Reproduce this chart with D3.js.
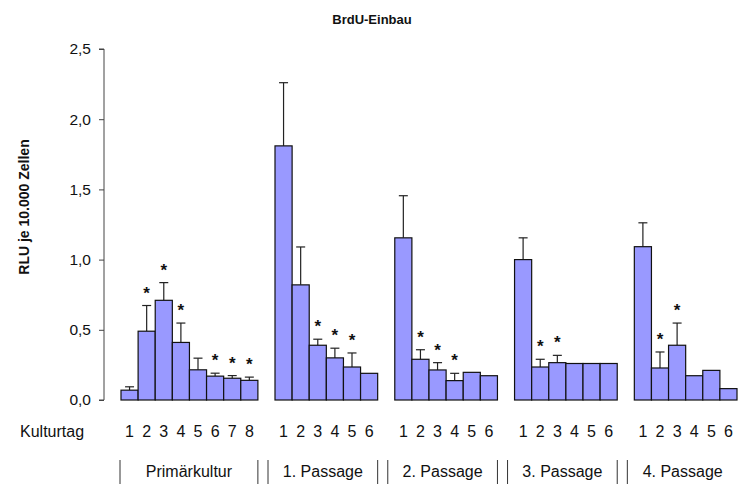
<!DOCTYPE html>
<html>
<head>
<meta charset="utf-8">
<script src="https://cdn.jsdelivr.net/npm/d3@7/dist/d3.min.js"></script>
<style>
  html, body { margin: 0; padding: 0; background: #fff; }
  svg { display: block; font-family: "Liberation Sans", Arial, sans-serif; }
</style>
</head>
<body>
<svg id="chart" width="738" height="489"></svg>
<script>
// BrdU incorporation per culture day, primary culture and four passages
const groups = ["Primärkultur", "1. Passage", "2. Passage", "3. Passage", "4. Passage"];
const dayLabels = [
  ["1", "2", "3", "4", "5", "6", "7", "8"],
  ["1", "2", "3", "4", "5", "6"],
  ["1", "2", "3", "4", "5", "6"],
  ["1", "2", "3", "4", "5", "6"],
  ["1", "2", "3", "4", "5", "6"]
];
// mean RLU per 10,000 cells
const means = [
  [0.07, 0.49, 0.71, 0.41, 0.215, 0.17, 0.155, 0.14],
  [1.81, 0.82, 0.39, 0.30, 0.235, 0.19],
  [1.155, 0.29, 0.214, 0.138, 0.197, 0.173],
  [1.0, 0.235, 0.266, 0.26, 0.26, 0.26],
  [1.092, 0.228, 0.39, 0.173, 0.211, 0.081]
];
// upper standard deviation (null = not shown)
const sds = [
  [0.024, 0.183, 0.126, 0.138, 0.083, 0.021, 0.019, 0.023],
  [0.45, 0.27, 0.043, 0.069, 0.10, null],
  [0.30, 0.068, 0.052, 0.052, null, null],
  [0.155, 0.055, 0.052, null, null, null],
  [0.17, 0.114, 0.158, null, null, null]
];
// significance markers (*)
const significant = [
  [0, 1, 1, 1, 0, 1, 1, 1],
  [0, 0, 1, 1, 1, 0],
  [0, 1, 1, 1, 0, 0],
  [0, 1, 1, 0, 0, 0],
  [0, 1, 1, 0, 0, 0]
];
const yTicks = [0, 0.5, 1.0, 1.5, 2.0, 2.5];

const svg = d3.select("#chart");
const fill = "#9999ff";

// flatten into bars, with one empty slot between groups
const bars = [];
const slots = [];
groups.forEach((g, gi) => {
  dayLabels[gi].forEach((d, di) => {
    const key = g + "|" + d;
    slots.push(key);
    bars.push({ key, group: gi, day: d, mean: means[gi][di], sd: sds[gi][di], sig: significant[gi][di] });
  });
  if (gi < groups.length - 1) slots.push("gap" + gi);
});

const x = d3.scaleBand().domain(slots).range([121, 737]).paddingInner(0).paddingOuter(0);
const y = d3.scaleLinear().domain([0, 2.5]).range([400, 49]);

// title
svg.append("text")
  .attr("x", 372).attr("y", 24)
  .attr("text-anchor", "middle")
  .attr("font-size", 13).attr("font-weight", "bold")
  .attr("fill", "#111")
  .text("BrdU-Einbau");

// y axis
const fmt = d3.format(".1f");
const yAxis = d3.axisLeft(y).tickValues(yTicks).tickSize(5).tickPadding(8)
  .tickFormat(d => fmt(d).replace(".", ","));
const gy = svg.append("g").attr("transform", "translate(104,0)").call(yAxis);
gy.select(".domain").attr("stroke", "#444").attr("d", `M-5,${y(2.5)}H0V${y(0)}H-5`);
gy.selectAll(".tick line").attr("stroke", "#444");
gy.selectAll(".tick text").attr("font-size", 15.5).attr("fill", "#111")
  .attr("font-family", "Liberation Sans, Arial, sans-serif");

svg.append("text")
  .attr("transform", `translate(29,207) rotate(-90)`)
  .attr("text-anchor", "middle")
  .attr("font-size", 14).attr("font-weight", "bold")
  .attr("fill", "#111")
  .text("RLU je 10.000 Zellen");

// error bars (drawn behind bars)
const capW = 9;
const withErr = bars.filter(b => b.sd != null);
const gErr = svg.append("g").attr("stroke", "#222").attr("stroke-width", 1.2);
gErr.selectAll("line.v").data(withErr).join("line").attr("class", "v")
  .attr("x1", b => x(b.key) + x.bandwidth() / 2).attr("x2", b => x(b.key) + x.bandwidth() / 2)
  .attr("y1", b => y(b.mean)).attr("y2", b => y(b.mean + b.sd));
gErr.selectAll("line.c").data(withErr).join("line").attr("class", "c")
  .attr("x1", b => x(b.key) + x.bandwidth() / 2 - capW / 2).attr("x2", b => x(b.key) + x.bandwidth() / 2 + capW / 2)
  .attr("y1", b => y(b.mean + b.sd)).attr("y2", b => y(b.mean + b.sd));

// bars
svg.append("g").selectAll("rect").data(bars).join("rect")
  .attr("x", b => x(b.key)).attr("width", x.bandwidth())
  .attr("y", b => y(b.mean)).attr("height", b => y(0) - y(b.mean))
  .attr("fill", fill).attr("stroke", "#111").attr("stroke-width", 1.2);

// significance stars
svg.append("g").selectAll("text").data(bars.filter(b => b.sig)).join("text")
  .attr("x", b => x(b.key) + x.bandwidth() / 2)
  .attr("y", b => y(b.mean + (b.sd || 0)) - 7)
  .attr("text-anchor", "middle")
  .attr("font-size", 17).attr("font-weight", "bold").attr("fill", "#111")
  .text("*");

// culture day labels
svg.append("text").attr("x", 20).attr("y", 437)
  .attr("font-size", 16).attr("fill", "#111").text("Kulturtag");
svg.append("g").selectAll("text").data(bars).join("text")
  .attr("x", b => x(b.key) + x.bandwidth() / 2).attr("y", 437)
  .attr("text-anchor", "middle").attr("font-size", 16).attr("fill", "#111")
  .text(b => b.day);

// group labels with separators
const groupSpan = groups.map((g, gi) => {
  const keys = bars.filter(b => b.group === gi).map(b => b.key);
  return { name: g, start: x(keys[0]), end: x(keys[keys.length - 1]) + x.bandwidth() };
});
const sepX = [];
groupSpan.forEach((s, gi) => {
  sepX.push(gi === 0 ? s.start - 1 : s.start - 7);
  if (gi < groups.length - 1) sepX.push(s.end);
});
svg.append("g").selectAll("line").data(sepX).join("line")
  .attr("x1", d => d).attr("x2", d => d).attr("y1", 460).attr("y2", 484)
  .attr("stroke", "#333").attr("stroke-width", 1);
svg.append("g").selectAll("text").data(groupSpan).join("text")
  .attr("x", (s, i) => i === groups.length - 1 ? (s.start - 7 + 738) / 2 : (s.start - (i === 0 ? 1 : 7) + s.end) / 2)
  .attr("y", 477)
  .attr("text-anchor", "middle").attr("font-size", 16).attr("fill", "#111")
  .text(s => s.name);
</script>
</body>
</html>
